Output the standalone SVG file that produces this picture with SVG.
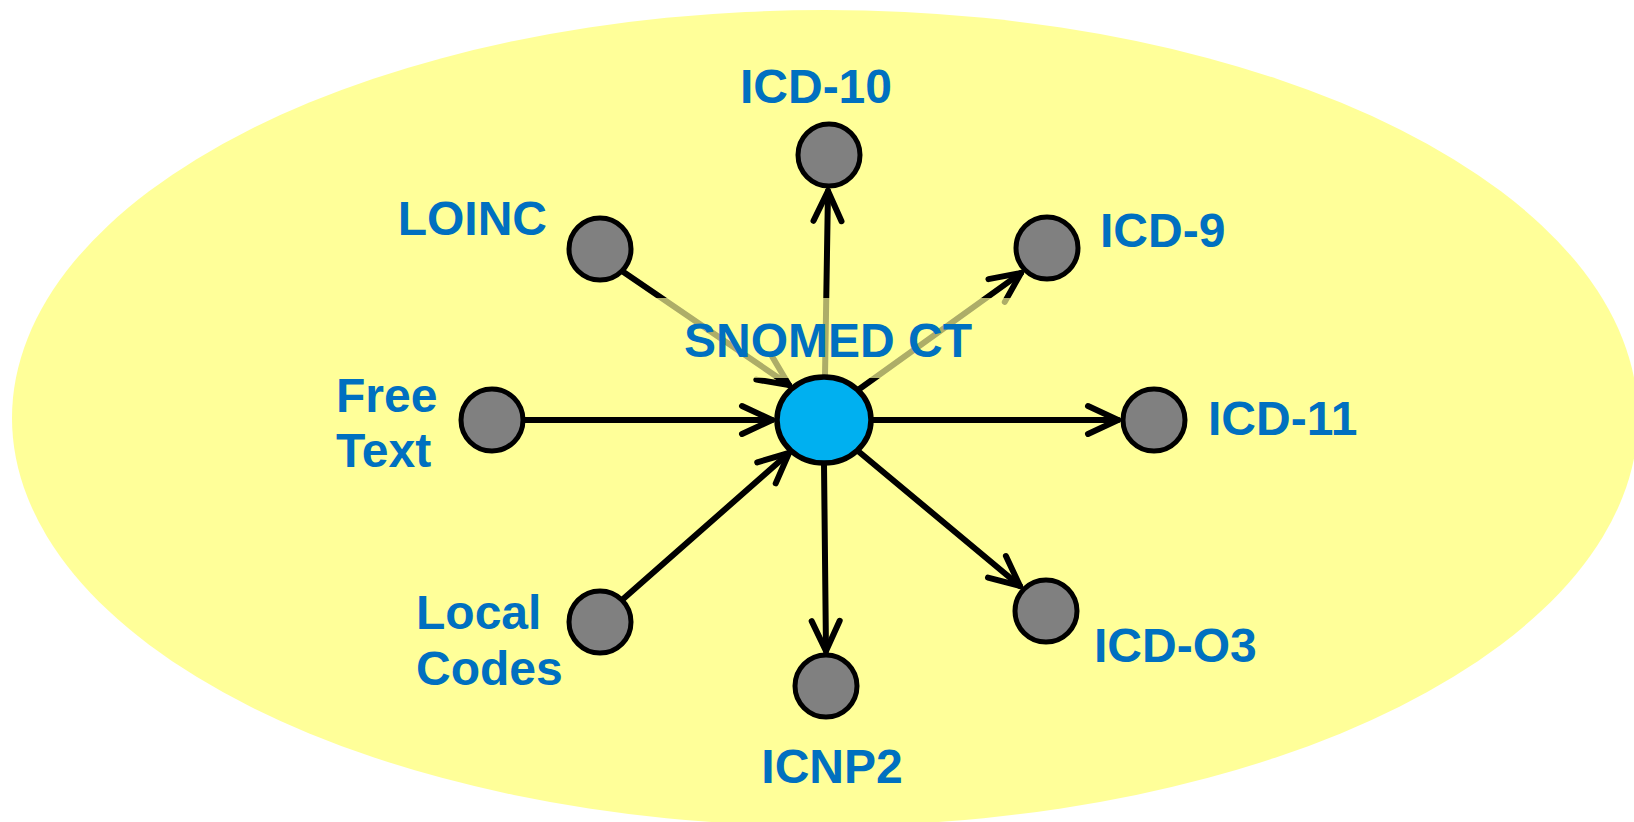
<svg xmlns="http://www.w3.org/2000/svg" width="1634" height="822" viewBox="0 0 1634 822">
<style>
.lbl{font-family:"Liberation Sans",Arial,sans-serif;font-weight:bold;font-size:48px;fill:#0070C0}
.node{fill:#808080;stroke:#000;stroke-width:5}
.conn{fill:none;stroke:#000;stroke-width:6;stroke-linecap:round;marker-end:url(#arr)}
</style>
<defs>
<marker id="arr" markerUnits="userSpaceOnUse" refX="0" refY="0" markerWidth="40" markerHeight="40" orient="auto" overflow="visible">
<path d="M-30,-14 L0,0 L-30,14" fill="none" stroke="#000" stroke-width="6" stroke-linecap="round" stroke-linejoin="round"/>
</marker>
</defs>
<rect width="1634" height="822" fill="#fff"/>
<ellipse id="background" cx="825" cy="418" rx="813" ry="408" fill="#FFFF99"/>
<g id="connectors">
<path class="conn" d="M622,271 L789,385"/>
<path class="conn" d="M524,420 L772,420"/>
<path class="conn" d="M622,600 L789,453"/>
<path class="conn" d="M825,376 L828,191"/>
<path class="conn" d="M858,390 L1021,273"/>
<path class="conn" d="M872,420 L1118,420"/>
<path class="conn" d="M824,464 L826,651"/>
<path class="conn" d="M858,451 L1020,586"/>
</g>
<g id="snomed">
<rect x="650" y="298" width="365" height="80" fill="#FFFF99" fill-opacity="0.68"/>
<text class="lbl" x="828" y="357" text-anchor="middle">SNOMED CT</text>
<ellipse cx="824" cy="420" rx="47" ry="43" fill="#00B0F0" stroke="#000" stroke-width="5.5"/>
</g>
<g id="icd10"><circle class="node" cx="829" cy="155" r="31"/><text class="lbl" x="816" y="103" text-anchor="middle">ICD-10</text></g>
<g id="loinc"><circle class="node" cx="600" cy="249" r="31"/><text class="lbl" x="547" y="235" text-anchor="end">LOINC</text></g>
<g id="icd9"><circle class="node" cx="1047" cy="248" r="31"/><text class="lbl" x="1100" y="247">ICD-9</text></g>
<g id="freetext"><circle class="node" cx="492" cy="420" r="31"/><text class="lbl" x="336" y="412">Free</text><text class="lbl" x="336" y="467">Text</text></g>
<g id="icd11"><circle class="node" cx="1154" cy="420" r="31"/><text class="lbl" x="1208" y="435">ICD-11</text></g>
<g id="localcodes"><circle class="node" cx="600" cy="622" r="31"/><text class="lbl" x="416" y="629">Local</text><text class="lbl" x="416" y="685">Codes</text></g>
<g id="icnp2"><circle class="node" cx="826" cy="686" r="31"/><text class="lbl" x="832" y="783" text-anchor="middle">ICNP2</text></g>
<g id="icdo3"><circle class="node" cx="1046" cy="611" r="31"/><text class="lbl" x="1094" y="662">ICD-O3</text></g>
</svg>
